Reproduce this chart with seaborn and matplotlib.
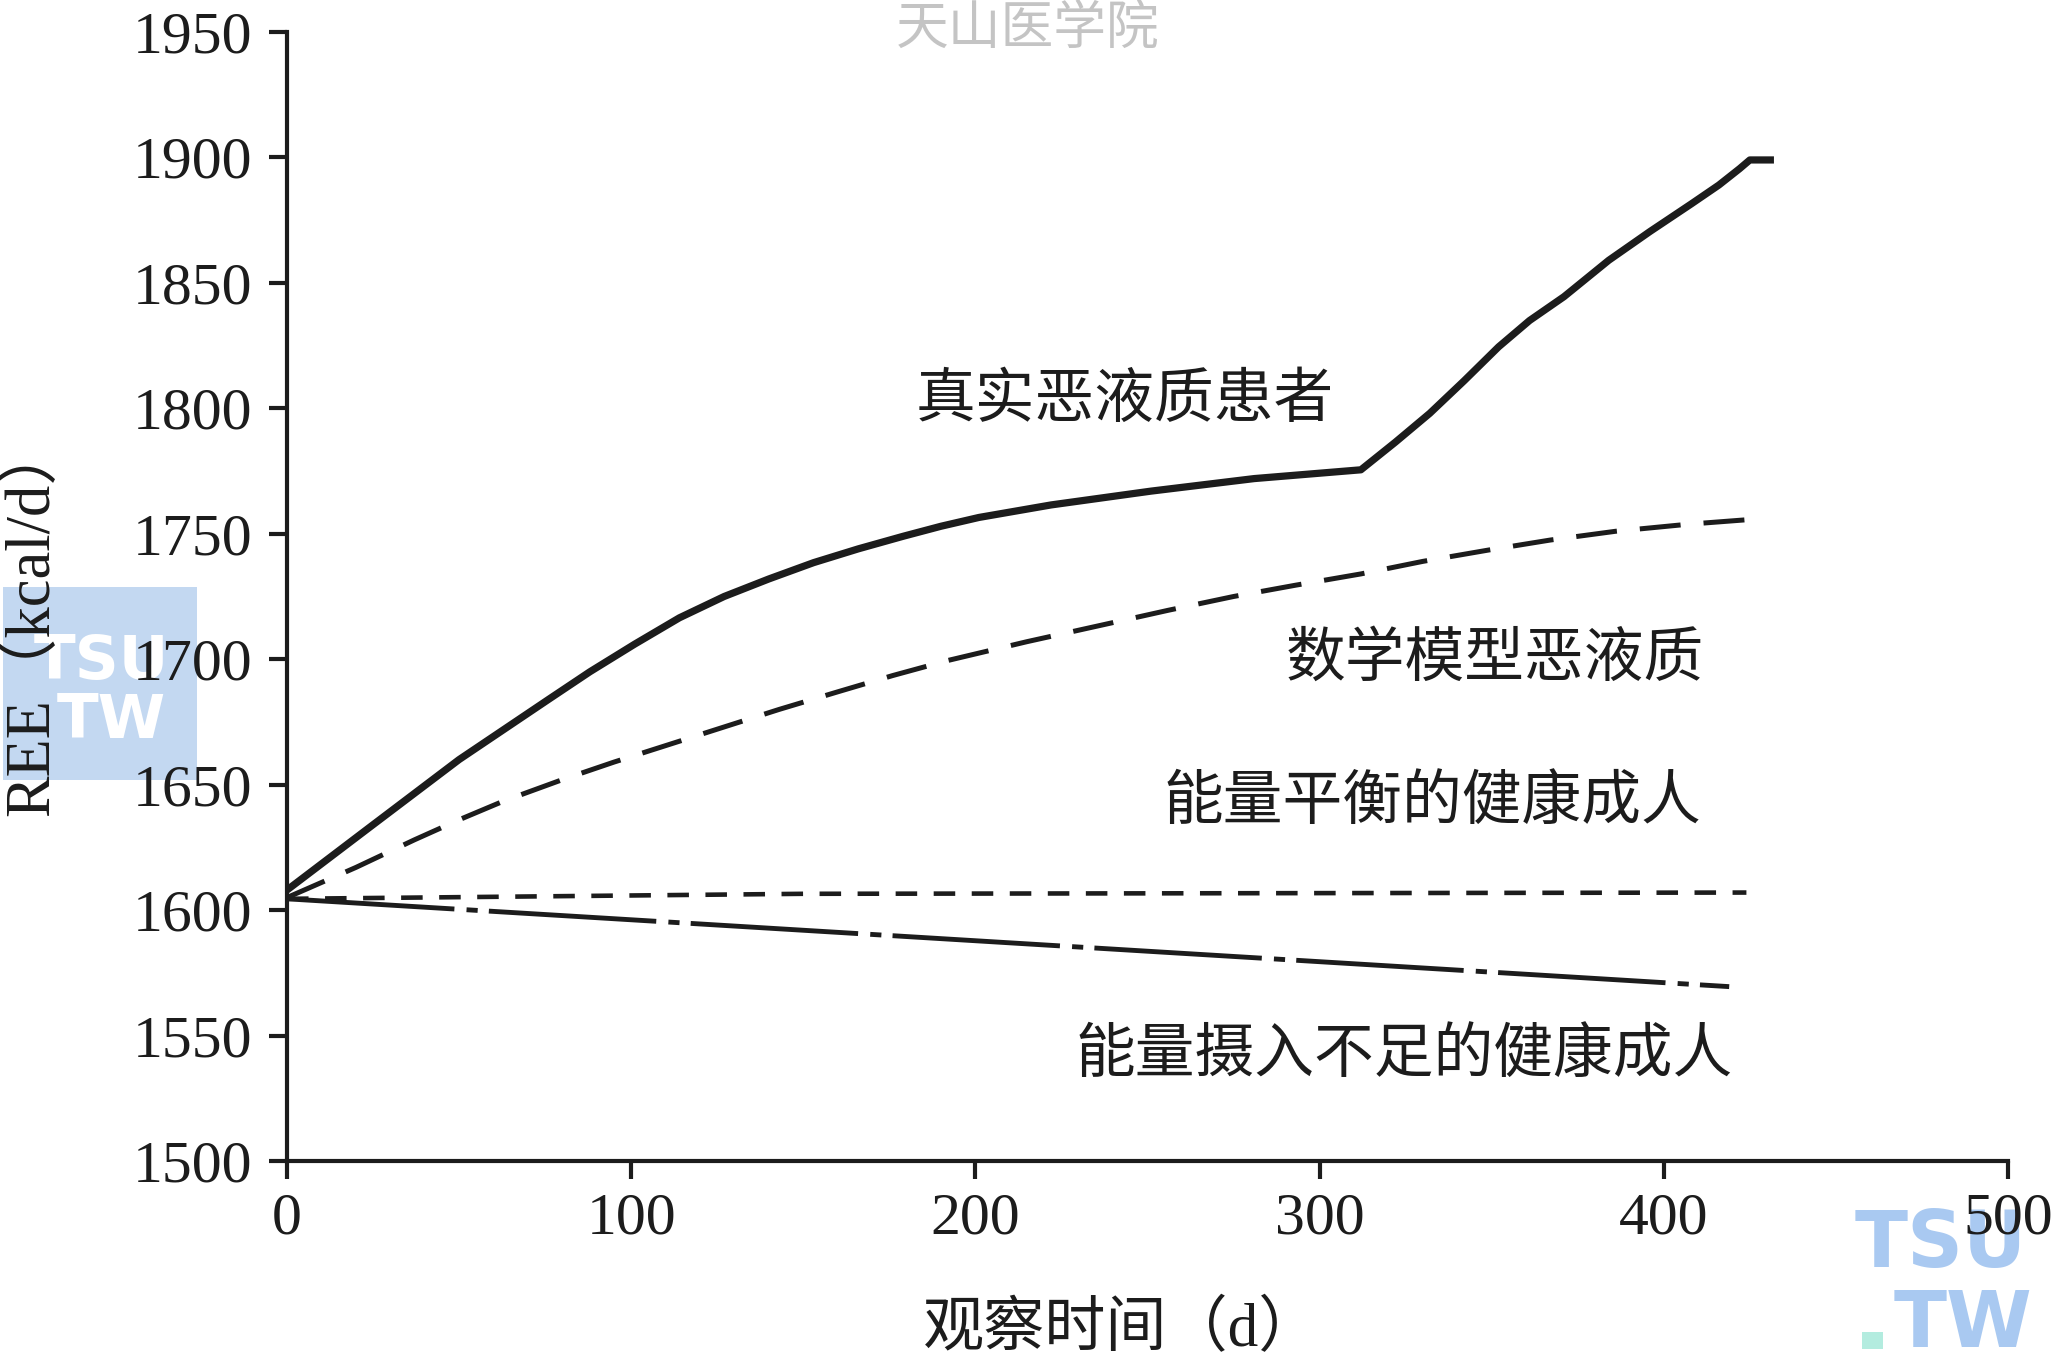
import matplotlib
matplotlib.use("Agg")
import matplotlib.pyplot as plt
from matplotlib.patches import Rectangle
import seaborn as sns
import pandas as pd

# ---------------- data ----------------
days_real = [0, 24, 50, 76, 88, 101, 114, 127, 140, 153, 166, 179, 190, 201,
             222, 251, 281, 312, 322, 332, 342, 352, 361, 371, 384, 396, 408,
             416, 422, 425, 432]
ree_real = [1608, 1633, 1660, 1684, 1695, 1706, 1716.5, 1725, 1732, 1738.5,
            1744, 1749, 1753, 1756.5, 1761.5, 1767, 1772, 1775.5, 1786.5,
            1798, 1811, 1824.5, 1835, 1844.5, 1859, 1870.5, 1881.5, 1889,
            1895.5, 1899, 1899]

days_model = [0, 20, 37, 50, 63, 80, 95, 111, 127, 143, 160, 176, 192, 215,
              238, 256, 275, 293, 312, 330, 349, 367, 386, 407, 428]
ree_model = [1605, 1617, 1628, 1636, 1643.5, 1652, 1659, 1666, 1673, 1680,
             1687, 1693.5, 1699.5, 1707, 1714, 1719.5, 1725, 1729.5, 1734,
             1739, 1743.5, 1747.5, 1751, 1753.8, 1756]

days_balance = [0, 150, 424]
ree_balance = [1604.5, 1606.5, 1607]

days_deficit = [0, 419]
ree_deficit = [1604.5, 1569.5]

label_real = "真实恶液质患者"
label_model = "数学模型恶液质"
label_balance = "能量平衡的健康成人"
label_deficit = "能量摄入不足的健康成人"

x_ticks = [0, 100, 200, 300, 400, 500]
y_ticks = [1500, 1550, 1600, 1650, 1700, 1750, 1800, 1850, 1900, 1950]
x_label = "观察时间（d）"
y_label = "REE（kcal/d）"
watermark = "天山医学院"

# ---------------- style ----------------
sns.set_style("ticks")
plt.rcParams["font.family"] = ["Liberation Serif", "Noto Sans CJK SC", "DejaVu Sans"]
CJK = ["Noto Sans CJK SC", "DejaVu Sans"]
SERIF_CJK = ["Liberation Serif", "Noto Sans CJK SC", "DejaVu Sans"]
INK = "#1c1c1c"

W, H = 2055, 1368
fig = plt.figure(figsize=(W / 100, H / 100), dpi=100)
fig.patch.set_facecolor("white")
x0, x1, y0, y1 = 287, 2008, 32, 1161
ax = fig.add_axes([x0 / W, 1 - y1 / H, (x1 - x0) / W, (y1 - y0) / H])
ax.set_facecolor("none")
ax.set_zorder(5)

df_real = pd.DataFrame({"day": days_real, "ree": ree_real})
df_model = pd.DataFrame({"day": days_model, "ree": ree_model})
df_bal = pd.DataFrame({"day": days_balance, "ree": ree_balance})
df_def = pd.DataFrame({"day": days_deficit, "ree": ree_deficit})

sns.lineplot(data=df_real, x="day", y="ree", ax=ax, color=INK, linewidth=5.2,
             solid_joinstyle="round", solid_capstyle="butt", zorder=5)
sns.lineplot(data=df_model, x="day", y="ree", ax=ax, color=INK, linewidth=3.6,
             linestyle=(0, (8.2, 4.6)), zorder=4)
sns.lineplot(data=df_bal, x="day", y="ree", ax=ax, color=INK, linewidth=3.3,
             linestyle=(0, (4.7, 3.6)), zorder=3)
sns.lineplot(data=df_def, x="day", y="ree", ax=ax, color=INK, linewidth=3.5,
             linestyle=(0, (34.5, 2.5, 2.3, 2.3)), zorder=3)

ax.set_xlim(0, 500)
ax.set_ylim(1500, 1950)
ax.set_xticks(x_ticks)
ax.set_yticks(y_ticks)
ax.set_xticklabels([str(v) for v in x_ticks])
ax.set_yticklabels([str(v) for v in y_ticks])
ax.set_xlabel("")
ax.set_ylabel("")
for s in ["top", "right"]:
    ax.spines[s].set_visible(False)
for s in ["left", "bottom"]:
    ax.spines[s].set_linewidth(3.0)
    ax.spines[s].set_color(INK)
ax.tick_params(axis="both", direction="out", length=13, width=3.0, color=INK,
               labelsize=43, labelcolor=INK, pad=10)
ax.tick_params(axis="y", pad=12)
for lab in ax.get_xticklabels() + ax.get_yticklabels():
    lab.set_fontfamily("Liberation Serif")

# curve labels
txt_kw = dict(fontsize=43, color=INK, ha="center", va="center", family=CJK,
              fontweight="medium")
ax.text(243.5, 1803, label_real, **txt_kw)
ax.text(351, 1700, label_model, **txt_kw)
ax.text(332.7, 1643, label_balance, **txt_kw)
ax.text(324.5, 1542, label_deficit, **txt_kw)

# watermarks (drawn beneath the axes and titles)
fig.text(1028 / W, 1 - 29 / H, watermark, fontsize=38, color="#c4c4c4",
         ha="center", va="center", family=CJK, zorder=1)
fig.patches.append(Rectangle((3 / W, 1 - 780 / H), 194 / W, 193 / H,
                             transform=fig.transFigure, facecolor="#c3d8f1",
                             edgecolor="none", zorder=1))
fig.text(101 / W, 1 - 662 / H, "TSU", fontsize=44, color="white",
         fontweight="bold", ha="center", va="center", family="DejaVu Sans",
         zorder=2)
fig.text(111 / W, 1 - 721 / H, "TW", fontsize=44, color="white",
         fontweight="bold", ha="center", va="center", family="DejaVu Sans",
         zorder=2)
fig.text(1941 / W, 1 - 1245 / H, "TSU", fontsize=56, color="#a9c9f1",
         fontweight="bold", ha="center", va="center", family="DejaVu Sans",
         zorder=1)
fig.text(1963 / W, 1 - 1325 / H, "TW", fontsize=56, color="#a9c9f1",
         fontweight="bold", ha="center", va="center", family="DejaVu Sans",
         zorder=1)
fig.patches.append(Rectangle((1862 / W, 1 - 1349 / H), 21 / W, 17 / H,
                             transform=fig.transFigure, facecolor="#b3ecdf",
                             edgecolor="none", zorder=1))

# axis titles (on top of watermarks)
fig.text(1122 / W, 1 - 1330 / H, x_label, fontsize=44, color=INK,
         ha="center", va="center", family=SERIF_CJK, zorder=10)
fig.text(33 / W, 1 - 618 / H, y_label, fontsize=45, color=INK, rotation=90,
         ha="center", va="center", family=SERIF_CJK, zorder=10)

fig.savefig("out.png", dpi=100, facecolor="white")
